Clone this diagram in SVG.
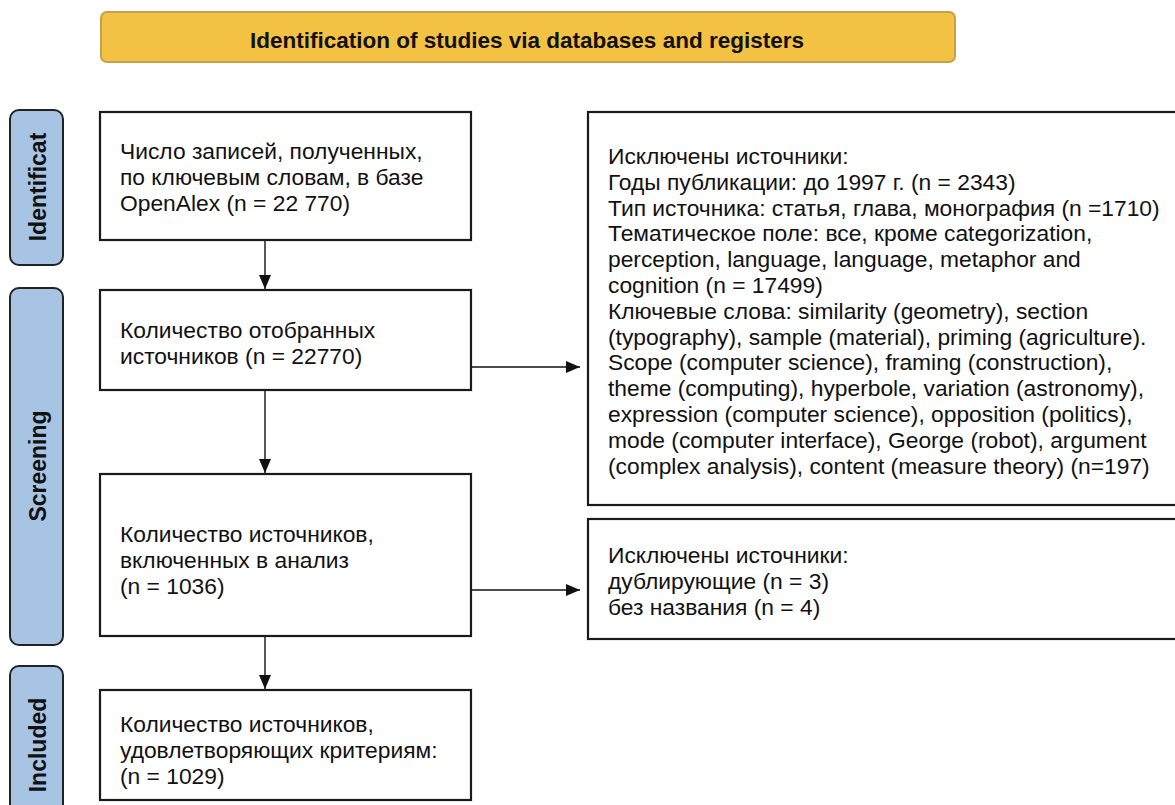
<svg xmlns="http://www.w3.org/2000/svg" width="1175" height="805" viewBox="0 0 1175 805">
<defs>
<style>
.box{fill:#fff;stroke:#1a1a1a;stroke-width:2.2}
.side{fill:#a7c4e4;stroke:#222;stroke-width:2}
.t{font-family:"Liberation Sans",Arial,sans-serif;font-size:22.8px;fill:#111}
.st{font-family:"Liberation Sans",Arial,sans-serif;font-size:23px;font-weight:bold;fill:#111}
.hd{font-family:"Liberation Sans",Arial,sans-serif;font-size:22.5px;font-weight:bold;fill:#111}
.c{stroke:#111;stroke-width:1.4;fill:none}
</style>
<marker id="ah" viewBox="0 0 14 12" refX="14" refY="6" markerWidth="14" markerHeight="12" markerUnits="userSpaceOnUse" orient="auto">
<path d="M0,0 L14,6 L0,12 z" fill="#111"/>
</marker>
</defs>
<rect width="1175" height="805" fill="#fff"/>
<g id="header">
<rect x="101" y="12" width="854" height="50" rx="6" fill="#f4c242" stroke="#c9a04a" stroke-width="2"/>
<text class="hd" x="527" y="48" text-anchor="middle">Identification of studies via databases and registers</text>
</g>
<g id="side-identification">
<rect class="side" x="10" y="110" width="53" height="155" rx="9"/>
<text class="st" transform="translate(46,187) rotate(-90)" text-anchor="middle">Identificat</text>
</g>
<g id="side-screening">
<rect class="side" x="10" y="288" width="53" height="357" rx="9"/>
<text class="st" transform="translate(46,466) rotate(-90)" text-anchor="middle">Screening</text>
</g>
<g id="side-included">
<rect class="side" x="10" y="666" width="53" height="150" rx="9"/>
<text class="st" transform="translate(46,745) rotate(-90)" text-anchor="middle">Included</text>
</g>
<g id="connectors">
<line class="c" x1="265" y1="240" x2="265" y2="289" marker-end="url(#ah)"/>
<line class="c" x1="471" y1="367" x2="580" y2="367" marker-end="url(#ah)"/>
<line class="c" x1="265" y1="390" x2="265" y2="473" marker-end="url(#ah)"/>
<line class="c" x1="471" y1="590" x2="580" y2="590" marker-end="url(#ah)"/>
<line class="c" x1="265" y1="636" x2="265" y2="689" marker-end="url(#ah)"/>
</g>
<g id="box-records">
<rect class="box" x="100" y="112" width="371" height="128"/>
<text class="t" x="120" y="159">Число записей, полученных,</text>
<text class="t" x="120" y="185">по ключевым словам, в базе</text>
<text class="t" x="120" y="211">OpenAlex (n = 22 770)</text>
</g>
<g id="box-screened">
<rect class="box" x="100" y="290" width="371" height="100"/>
<text class="t" x="120" y="338">Количество отобранных</text>
<text class="t" x="120" y="364">источников (n = 22770)</text>
</g>
<g id="box-excluded1">
<rect class="box" x="588" y="112" width="600" height="393"/>
<text class="t" x="608" y="164">Исключены источники:</text>
<text class="t" x="608" y="189.8">Годы публикации: до 1997 г. (n = 2343)</text>
<text class="t" x="608" y="215.6">Тип источника: статья, глава, монография (n =1710)</text>
<text class="t" x="608" y="241.4">Тематическое поле: все, кроме categorization,</text>
<text class="t" x="608" y="267.2">perception, language, language, metaphor and</text>
<text class="t" x="608" y="293">cognition (n = 17499)</text>
<text class="t" x="608" y="318.8">Ключевые слова: similarity (geometry), section</text>
<text class="t" x="608" y="344.6">(typography), sample (material), priming (agriculture).</text>
<text class="t" x="608" y="370.4">Scope (computer science), framing (construction),</text>
<text class="t" x="608" y="396.2">theme (computing), hyperbole, variation (astronomy),</text>
<text class="t" x="608" y="422">expression (computer science), opposition (politics),</text>
<text class="t" x="608" y="447.8">mode (computer interface), George (robot), argument</text>
<text class="t" x="608" y="473.6">(complex analysis), content (measure theory) (n=197)</text>
</g>
<g id="box-included-analysis">
<rect class="box" x="100" y="474" width="371" height="162"/>
<text class="t" x="120" y="542">Количество источников,</text>
<text class="t" x="120" y="568">включенных в анализ</text>
<text class="t" x="120" y="594">(n = 1036)</text>
</g>
<g id="box-excluded2">
<rect class="box" x="588" y="519" width="600" height="120"/>
<text class="t" x="608" y="563">Исключены источники:</text>
<text class="t" x="608" y="589">дублирующие (n = 3)</text>
<text class="t" x="608" y="615">без названия (n = 4)</text>
</g>
<g id="box-final">
<rect class="box" x="100" y="690" width="371" height="110"/>
<text class="t" x="120" y="732">Количество источников,</text>
<text class="t" x="120" y="758">удовлетворяющих критериям:</text>
<text class="t" x="120" y="784">(n = 1029)</text>
</g>
</svg>
